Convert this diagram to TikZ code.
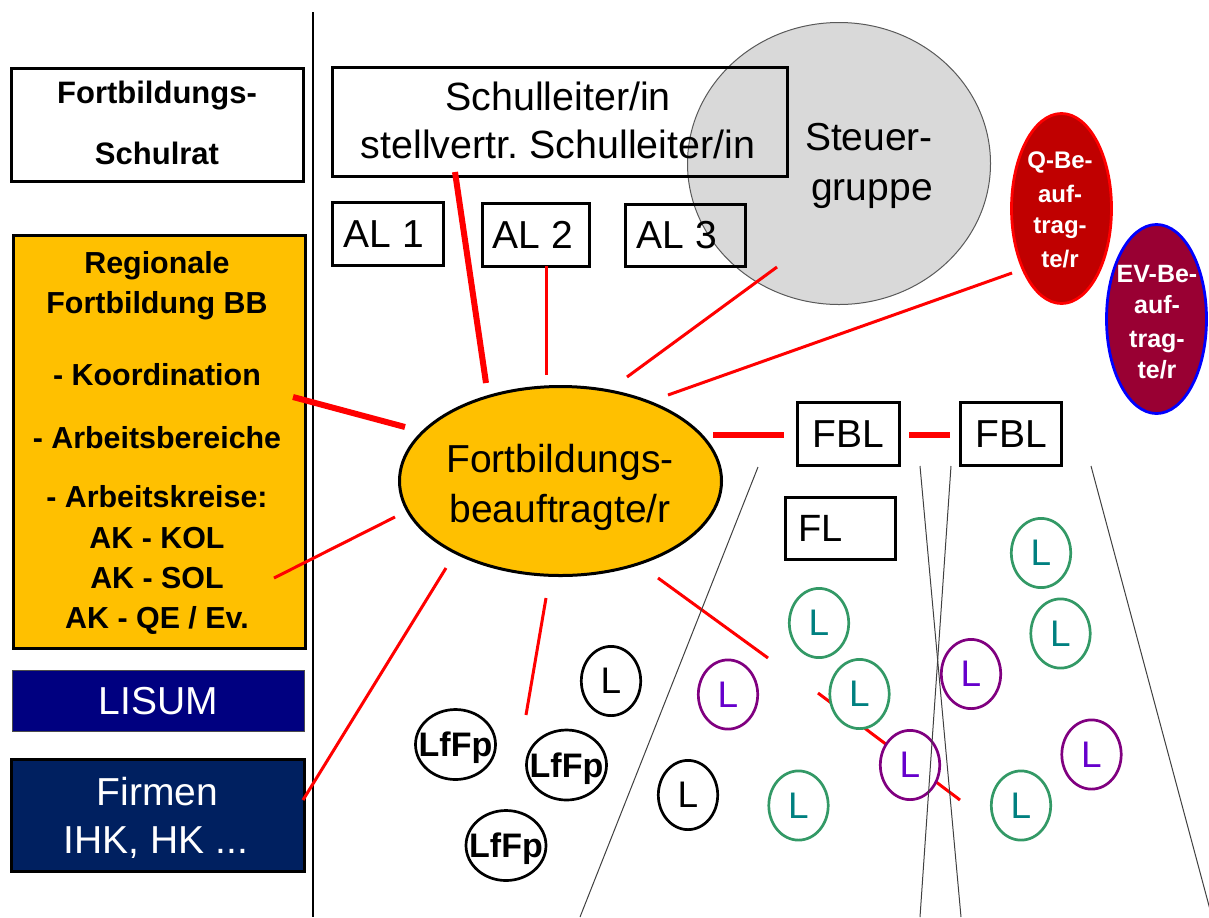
\documentclass[tikz,border=0pt]{standalone}
\usepackage{fontspec}
\setmainfont{Liberation Sans}
\usetikzlibrary{shapes.geometric}
\definecolor{orgF}{HTML}{FFC000}
\definecolor{steuerF}{HTML}{D9D9D9}
\definecolor{qF}{HTML}{C00000}
\definecolor{evF}{HTML}{990033}
\definecolor{lisumF}{HTML}{000080}
\definecolor{firmF}{HTML}{002060}
\definecolor{grnC}{HTML}{339966}
\definecolor{tealT}{HTML}{008080}
\definecolor{purC}{HTML}{800080}
\definecolor{violT}{HTML}{6600CC}
\definecolor{redC}{HTML}{FF0000}
\definecolor{blueC}{HTML}{0000FF}
\newcommand{\myfs}[1]{\fontsize{#1}{#1}\selectfont}
\frenchspacing
\begin{document}
\begin{tikzpicture}[x=0.5pt,y=-0.5pt,
  frame/.style={draw=black, line width=1.5pt, rectangle, inner sep=0pt},
  txt/.style={anchor=base, inner sep=0pt},
  lc/.style={ellipse, draw, fill=white, line width=1.35pt, minimum width=29.7pt, minimum height=34.6pt, inner sep=0pt, font=\myfs{18.5}},
  blkL/.style={lc, draw=black},
  purL/.style={lc, draw=purC, text=violT},
  grnL/.style={lc, draw=grnC, text=tealT},
  lfp/.style={lc, draw=black, minimum width=40pt, minimum height=35pt,
    label={[inner sep=0pt, font=\bfseries\myfs{17}, text depth=0pt]center:LfFp}},
  redthick/.style={draw=redC, line width=3pt},
  redthin/.style={draw=redC, line width=1.5pt},
  gline/.style={draw=black!75, line width=0.5pt}
]
\useasboundingbox (0,0) rectangle (1209,917);
\clip (0,0) rectangle (1209,917);

% Steuergruppe
\node[ellipse, draw=black!65, line width=0.5pt, fill=steuerF, minimum width=151.5pt, minimum height=141pt, inner sep=0pt] (stg) at (839,163.5) {};
\begin{scope}[font=\myfs{19.5}]
\node[txt] (stg1) at (869,150) {Steuer-};
\node[txt] (stg2) at (872,200) {gruppe};
\end{scope}

% Schulleiter and AL boxes
\node[frame, line width=1.25pt, minimum width=227.7pt, minimum height=54.7pt] (sl) at (560,122) {};
\begin{scope}[font=\myfs{19.7}]
\node[txt] (sl1) at (558,110) {Schulleiter/in};
\node[txt] (sl2) at (558,158) {stellvertr. Schulleiter/in};
\end{scope}
\node[frame, minimum width=55.5pt, minimum height=31.5pt] (al1) at (388,234) {};
\node[frame, minimum width=53.5pt, minimum height=31.5pt] (al2) at (536,235) {};
\node[frame, minimum width=60pt, minimum height=31pt] (al3) at (685.5,235.5) {};
\begin{scope}[font=\myfs{19.5}]
\node[txt] (al1t) at (384,247) {AL 1};
\node[txt] (al2t) at (533,248) {AL 2};
\node[txt] (al3t) at (677,248) {AL 3};
\end{scope}

% left column
\draw[line width=1pt] (313,12) coordinate (sepT) -- (313,917) coordinate (sepB);
\node[frame, minimum width=146pt, minimum height=56.5pt] (fsr) at (157.5,125) {};
\begin{scope}[font=\bfseries\myfs{15.5}]
\node[txt] (fsr1) at (157,103) {Fortbildungs-};
\node[txt] (fsr2) at (157,164) {Schulrat};
\end{scope}
\node[frame, fill=orgF, minimum width=146pt, minimum height=206.5pt] (rfb) at (159.5,442) {};
\begin{scope}[font=\bfseries\myfs{15.2}]
\node[txt] (rfb1) at (157,273) {Regionale};
\node[txt] (rfb2) at (157,313) {Fortbildung BB};
\node[txt] (rfb3) at (157,385) {- Koordination};
\node[txt] (rfb4) at (157,448) {- Arbeitsbereiche};
\node[txt] (rfb5) at (157,507) {- Arbeitskreise:};
\node[txt] (rfb6) at (157,548) {AK - KOL};
\node[txt] (rfb7) at (157,588) {AK - SOL};
\node[txt] (rfb8) at (157,628) {AK - QE / Ev.};
\end{scope}
\node[rectangle, draw=black!70, line width=0.5pt, fill=lisumF, text=white, minimum width=146pt, minimum height=30.5pt, inner sep=0pt, font=\myfs{19.5}] (lisum) at (158.5,701) {LISUM};
\node[frame, fill=firmF, minimum width=146.5pt, minimum height=56pt] (firm) at (158,815.5) {};
\begin{scope}[font=\myfs{19.5}, text=white]
\node[txt] (firm1) at (157.5,805) {Firmen};
\node[txt] (firm2) at (156,853) {IHK, HK ...};
\end{scope}

% main ellipse
\node[ellipse, draw=black, line width=1.5pt, fill=orgF, minimum width=161pt, minimum height=94.5pt, inner sep=0pt] (fb) at (560.5,481) {};
\begin{scope}[font=\myfs{19.5}]
\node[txt] (fb1) at (560,472) {Fortbildungs-};
\node[txt] (fb2) at (560,522) {beauftragte/r};
\end{scope}

% Q and EV
\node[ellipse, draw=redC, line width=1.4pt, fill=qF, minimum width=50pt, minimum height=95pt, inner sep=0pt] (q) at (1061.5,208.5) {};
\begin{scope}[font=\bfseries\myfs{12}, text=white]
\node[txt] (q1) at (1060,168) {Q-Be-};
\node[txt] (q2) at (1060,202) {auf-};
\node[txt] (q3) at (1060,233) {trag-};
\node[txt] (q4) at (1060,267) {te/r};
\end{scope}
\node[ellipse, draw=blueC, line width=1.4pt, fill=evF, minimum width=50pt, minimum height=94.5pt, inner sep=0pt] (ev) at (1156.5,319) {};
\begin{scope}[font=\bfseries\myfs{12.5}, text=white]
\node[txt] (ev1) at (1157,282) {EV-Be-};
\node[txt] (ev2) at (1157,313) {auf-};
\node[txt] (ev3) at (1157,347) {trag-};
\node[txt] (ev4) at (1157,378) {te/r};
\end{scope}

% FBL and FL
\node[frame, minimum width=51pt, minimum height=31.5pt, font=\myfs{19.5}] (fbl1) at (848.5,434) {FBL};
\node[frame, minimum width=50.5pt, minimum height=31.5pt, font=\myfs{19.5}] (fbl2) at (1011,434) {FBL};
\node[frame, minimum width=55pt, minimum height=31pt] (fl) at (840.5,528.5) {};
\node[txt, anchor=base west, font=\myfs{19}] (flt) at (798,541) {FL};

% red connectors
\coordinate (r1a) at (455,172); \coordinate (r1b) at (486,383);
\coordinate (r2a) at (546,266); \coordinate (r2b) at (546,375);
\coordinate (r3a) at (777,267); \coordinate (r3b) at (627,377);
\coordinate (r4a) at (1012,273); \coordinate (r4b) at (668,395);
\coordinate (r5a) at (293,397); \coordinate (r5b) at (405,427);
\coordinate (r6a) at (274,578); \coordinate (r6b) at (395,517);
\coordinate (r7a) at (303,800); \coordinate (r7b) at (446,568);
\coordinate (r8a) at (546,598); \coordinate (r8b) at (526,715);
\coordinate (r9a) at (658,578); \coordinate (r9b) at (768,658);
\coordinate (r10a) at (818,693); \coordinate (r10b) at (960,800);
\coordinate (r11a) at (713,435); \coordinate (r11b) at (784,435);
\coordinate (r12a) at (909,435); \coordinate (r12b) at (950,435);
\draw[redthick] (r1a) -- (r1b);
\draw[redthin] (r2a) -- (r2b);
\draw[redthin] (r3a) -- (r3b);
\draw[redthin] (r4a) -- (r4b);
\draw[redthick] (r5a) -- (r5b);
\draw[redthin] (r6a) -- (r6b);
\draw[redthin] (r7a) -- (r7b);
\draw[redthin] (r8a) -- (r8b);
\draw[redthin] (r9a) -- (r9b);
\draw[redthin] (r10a) -- (r10b);
\draw[redthick] (r11a) -- (r11b);
\draw[redthick] (r12a) -- (r12b);

% L circles
\node[blkL] (bl1) at (611,681) {L};
\node[blkL] (bl2) at (688,795) {L};
\node[lfp] (lf1) at (455.5,744.5) {};
\node[lfp] (lf2) at (566.5,765) {};
\node[lfp] (lf3) at (506,845.5) {};
\node[purL] (p1) at (728,694.5) {L};
\node[purL] (p2) at (910,765) {L};
\node[purL] (p3) at (971,674) {L};
\node[purL] (p4) at (1091.5,754.5) {L};
\node[grnL] (g1) at (819,623) {L};
\node[grnL] (g2) at (859.5,694) {L};
\node[grnL] (g3) at (798.5,805.5) {L};
\node[grnL] (g4) at (1041,553) {L};
\node[grnL] (g5) at (1060.5,633.5) {L};
\node[grnL] (g6) at (1021,805.5) {L};

% gray lines
\coordinate (ga1) at (758,467); \coordinate (gb1) at (580,917);
\coordinate (ga2) at (920,466); \coordinate (gb2) at (961,917);
\coordinate (ga3) at (951,466); \coordinate (gb3) at (920,917);
\coordinate (ga4) at (1091,466); \coordinate (gb4) at (1212,917);
\draw[gline] (ga1) -- (gb1);
\draw[gline] (ga2) -- (gb2);
\draw[gline] (ga3) -- (gb3);
\draw[gline] (ga4) -- (gb4);
\end{tikzpicture}
\end{document}
